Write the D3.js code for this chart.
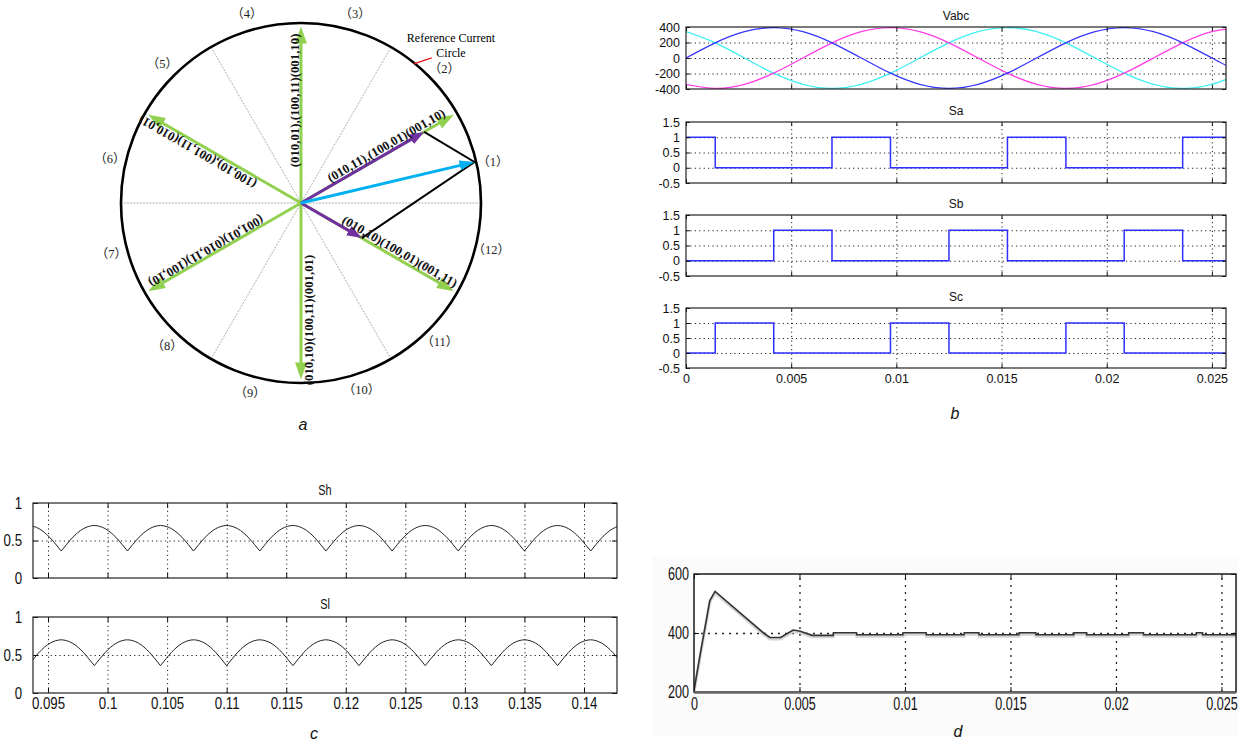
<!DOCTYPE html>
<html>
<head>
<meta charset="utf-8">
<script src="https://cdn.jsdelivr.net/npm/d3@7"></script>
<style>
  body { margin: 0; background: #fff; }
  svg { display: block; }
</style>
</head>
<body>
<div id="figura"></div>
<script>
// ===== dados =====

// (a) diagrama vetorial
const setorDiametros = [0, 60, 120];
const setorAngulos = [12, 43, 74, 106, 135, 167, 195, 227, 255, 288, 315, 346];
const setorNomes = ['（1）', '（2）', '（3）', '（4）', '（5）', '（6）', '（7）', '（8）', '（9）', '（10）', '（11）', '（12）'];
const verdeAngulos = [30, 90, 150, 210, 270, 330];
const verdeModulos = [0.98, 0.98, 0.98, 0.98, 0.98, 0.98];
const verdeRotulos = [
  '(010,11),(100,01)(001,10)',
  '(010,01),(100,11)(001,10)',
  '(100,10),(001,11)(010,01)',
  '(001,01)(010,11)(100,10)',
  '(010,10)(100,11)(001,01)',
  '(010,10)(100,01)(001,11)'
];
const roxoAngulos = [30, -30];
const roxoModulos = [0.79, 0.39];
const refAngulo = 13.3;
const refModulo = 0.99;

// (b) tensoes e chaveamentos
const bTempo = [0, 0.001389, 0.002778, 0.004167, 0.005556, 0.006944, 0.008333, 0.009722, 0.011111, 0.0125,
  0.013889, 0.015278, 0.016667, 0.018056, 0.019444, 0.020833, 0.022222, 0.023611, 0.025, 0.026389];
const va = [0, 196, 340, 392, 340, 196, 0, -196, -340, -392, -340, -196, 0, 196, 340, 392, 340, 196, 0, -196];
const vb = [-340, -392, -340, -196, 0, 196, 340, 392, 340, 196, 0, -196, -340, -392, -340, -196, 0, 196, 340, 392];
const vc = [340, 196, 0, -196, -340, -392, -340, -196, 0, 196, 340, 392, 340, 196, 0, -196, -340, -392, -340, -196];
const saTempo = [0, 0.00139, 0.00694, 0.00972, 0.01528, 0.01806, 0.02361, 0.02567];
const saValor = [1, 0, 1, 0, 1, 0, 1, 1];
const sbTempo = [0, 0.00417, 0.00694, 0.0125, 0.01528, 0.02083, 0.02361, 0.02567];
const sbValor = [0, 1, 0, 1, 0, 1, 0, 0];
const scTempo = [0, 0.00139, 0.00417, 0.00972, 0.0125, 0.01806, 0.02083, 0.02567];
const scValor = [0, 1, 0, 1, 0, 1, 0, 0];
const bTicksX = [0, 0.005, 0.01, 0.015, 0.02, 0.025];
const vTicks = [-400, -200, 0, 200, 400];
const sTicks = [-0.5, 0, 0.5, 1, 1.5];

// (c) Sh e Sl
const perfilArco = [0.36, 0.45, 0.535, 0.605, 0.657, 0.688, 0.70, 0.688, 0.657, 0.605, 0.535, 0.45, 0.36];
const shCuspides = [0.09056, 0.09611, 0.10167, 0.10722, 0.11278, 0.11833, 0.12389, 0.12944, 0.135, 0.14056, 0.14611];
const slCuspides = [0.09333, 0.09889, 0.10444, 0.11, 0.11556, 0.12111, 0.12667, 0.13222, 0.13778, 0.14333];
const cTicksX = [0.095, 0.1, 0.105, 0.11, 0.115, 0.12, 0.125, 0.13, 0.135, 0.14];
const cTicksY = [0, 0.5, 1];

// (d) tensao do barramento
const dTempo = [0, 0.0003, 0.00075, 0.001, 0.0033, 0.0036, 0.0041, 0.0047, 0.005, 0.0056, 0.0066, 0.00661,
  0.0077, 0.00771, 0.0099, 0.00991, 0.011, 0.01101, 0.0128, 0.01281, 0.0135, 0.01351, 0.0154, 0.01541,
  0.0162, 0.01621, 0.018, 0.01801, 0.0186, 0.01861, 0.0206, 0.02061, 0.0213, 0.02131, 0.0238, 0.02381,
  0.0241, 0.02411, 0.0257];
const dValor = [205, 330, 510, 541, 400, 385, 385, 410, 407, 392, 392, 401,
  401, 394, 394, 401, 401, 394, 394, 401, 401, 394, 394, 401,
  401, 394, 394, 401, 401, 394, 394, 401, 401, 394, 394, 401,
  401, 394, 394];
const dTicksX = [0, 0.005, 0.01, 0.015, 0.02, 0.025];
const dTicksY = [200, 400, 600];

// ===== configuracao =====
const SERIF = '"Liberation Serif","Times New Roman","Noto Sans CJK SC",serif';
const SANS = '"Liberation Sans",Arial,sans-serif';

const svg = d3.select('#figura').append('svg')
  .attr('width', 1239).attr('height', 742)
  .style('font-family', SANS);
const defs = svg.append('defs');

// ===== (a) =====
const cx = 301, cy = 203;
const raio = d3.scaleLinear().domain([0, 1]).range([0, 180]);
function ponto(ang, m) {
  const a = ang * Math.PI / 180;
  return [cx + raio(m) * Math.cos(a), cy - raio(m) * Math.sin(a)];
}

function seta(id, cor, comp, larg, recuo) {
  defs.append('marker').attr('id', id)
    .attr('markerUnits', 'userSpaceOnUse')
    .attr('markerWidth', comp).attr('markerHeight', larg)
    .attr('refX', comp - recuo).attr('refY', larg / 2)
    .attr('orient', 'auto')
    .append('path').attr('d', `M0,0L${comp},${larg / 2}L0,${larg}Z`).attr('fill', cor);
}
seta('pv', '#92d050', 17, 12, 9);
seta('pr', '#7030a0', 15, 11, 8);
seta('pa', '#00b0f0', 15, 10, 8);

const ga = svg.append('g');

ga.selectAll('line.diam').data(setorDiametros).join('line')
  .attr('x1', d => ponto(d, 1)[0]).attr('y1', d => ponto(d, 1)[1])
  .attr('x2', d => ponto(d + 180, 1)[0]).attr('y2', d => ponto(d + 180, 1)[1])
  .attr('stroke', '#8a8a8a').attr('stroke-width', 0.7).attr('stroke-dasharray', '2,1.2');

ga.append('circle').attr('cx', cx).attr('cy', cy).attr('r', raio(1))
  .attr('fill', 'none').attr('stroke', '#000').attr('stroke-width', 2.6);

ga.selectAll('text.setor').data(setorAngulos).join('text')
  .attr('x', d => ponto(d, 1.09)[0]).attr('y', d => ponto(d, 1.09)[1])
  .attr('text-anchor', 'middle').attr('dominant-baseline', 'central')
  .attr('font-family', SERIF).attr('font-size', 12.5).attr('fill', '#222')
  .text((d, i) => setorNomes[i]);

// anotacao do circulo de referencia
const marca = [ponto(51, 0.995), ponto(48, 1.085)];
ga.append('line').attr('x1', marca[0][0]).attr('y1', marca[0][1]).attr('x2', marca[1][0]).attr('y2', marca[1][1])
  .attr('stroke', '#e8141c').attr('stroke-width', 1.3);
ga.append('text').attr('x', 451).attr('y', 42).attr('text-anchor', 'middle')
  .attr('font-family', SERIF).attr('font-size', 12).text('Reference Current');
ga.append('text').attr('x', 451).attr('y', 57).attr('text-anchor', 'middle')
  .attr('font-family', SERIF).attr('font-size', 12).text('Circle');

// vetores verdes
const recuoV = raio.invert(9);
ga.selectAll('line.verde').data(verdeAngulos).join('line')
  .attr('x1', cx).attr('y1', cy)
  .attr('x2', (d, i) => ponto(d, verdeModulos[i] - recuoV)[0])
  .attr('y2', (d, i) => ponto(d, verdeModulos[i] - recuoV)[1])
  .attr('stroke', '#92d050').attr('stroke-width', 3).attr('marker-end', 'url(#pv)');

// linhas pretas (soma vetorial)
const pontaRef = ponto(refAngulo, refModulo);
const pontaR1 = ponto(roxoAngulos[0], roxoModulos[0]);
const pontaR2 = ponto(roxoAngulos[1], roxoModulos[1]);
ga.append('path')
  .attr('d', d3.line()([pontaR1, pontaRef, pontaR2]))
  .attr('fill', 'none').attr('stroke', '#000').attr('stroke-width', 2);

// vetores roxos e de referencia
const recuoR = raio.invert(8);
ga.selectAll('line.roxo').data(roxoAngulos).join('line')
  .attr('x1', cx).attr('y1', cy)
  .attr('x2', (d, i) => ponto(d, roxoModulos[i] - recuoR)[0])
  .attr('y2', (d, i) => ponto(d, roxoModulos[i] - recuoR)[1])
  .attr('stroke', '#7030a0').attr('stroke-width', 3).attr('marker-end', 'url(#pr)');
ga.append('line').attr('x1', cx).attr('y1', cy)
  .attr('x2', ponto(refAngulo, refModulo - recuoR)[0]).attr('y2', ponto(refAngulo, refModulo - recuoR)[1])
  .attr('stroke', '#00b0f0').attr('stroke-width', 3).attr('marker-end', 'url(#pa)');

// rotulos dos vetores (posicao ao longo, rotacao, deslocamento normal)
const rotuloLayout = [
  { along: 0.57, rot: -30, off: 3 },
  { along: 0.57, rot: -90, off: 2 },
  { along: 0.64, rot: -150, off: 3 },
  { along: 0.59, rot: 150, off: -10 },
  { along: 0.65, rot: -90, off: -12 },
  { along: 0.61, rot: 30, off: 3 }
];
ga.selectAll('text.vet').data(verdeRotulos).join('text')
  .attr('transform', (d, i) => {
    const L = rotuloLayout[i];
    const p = ponto(verdeAngulos[i], L.along);
    const r = L.rot * Math.PI / 180;
    const x = p[0] + Math.sin(r) * L.off, y = p[1] - Math.cos(r) * L.off;
    return `translate(${x},${y}) rotate(${L.rot})`;
  })
  .attr('text-anchor', 'middle')
  .attr('font-family', SERIF).attr('font-weight', 'bold').attr('font-size', 12.8)
  .attr('fill', '#111')
  .text(d => d);

// ===== eixos estilo matlab =====
function eixos(g, x, y, cfg) {
  const [x0, x1] = x.range();
  const [y0, y1] = y.range();
  const w = x1 - x0, h = y0 - y1;
  g.append('rect').attr('x', x0).attr('y', y1).attr('width', w).attr('height', h).attr('fill', '#fff');

  const gx = g.append('g').attr('transform', `translate(0,${y0})`)
    .call(d3.axisBottom(x).tickValues(cfg.xGrid).tickSize(-h).tickFormat(''));
  const gy = g.append('g').attr('transform', `translate(${x0},0)`)
    .call(d3.axisLeft(y).tickValues(cfg.yGrid).tickSize(-w).tickFormat(''));
  [gx, gy].forEach(s => {
    s.select('.domain').remove();
    s.selectAll('line').attr('stroke', '#222').attr('stroke-width', cfg.gridWidth || 1)
      .attr('stroke-dasharray', cfg.dash);
  });

  const id = 'clip' + Math.round(x0) + '_' + Math.round(y1);
  defs.append('clipPath').attr('id', id)
    .append('rect').attr('x', x0).attr('y', y1).attr('width', w).attr('height', h);
  const area = g.append('g').attr('clip-path', `url(#${id})`);

  const finaliza = () => {
    const k = cfg.squash || 1;
    const tamanho = cfg.tick || 4;
    const bx = g.append('g').attr('transform', `translate(0,${y0})`)
      .call(d3.axisBottom(x).tickValues(cfg.xTicks).tickSize(-tamanho).tickPadding(cfg.padX)
        .tickFormat(cfg.xLabels ? (d => String(d)) : ''));
    const tx = g.append('g').attr('transform', `translate(0,${y1})`)
      .call(d3.axisTop(x).tickValues(cfg.xTicks).tickSize(-tamanho).tickFormat(''));
    const ly = g.append('g').attr('transform', `translate(${x0},0)`)
      .call(d3.axisLeft(y).tickValues(cfg.yTicks).tickSize(-tamanho).tickPadding(cfg.padY / k)
        .tickFormat(d => String(d)));
    const ry = g.append('g').attr('transform', `translate(${x1},0)`)
      .call(d3.axisRight(y).tickValues(cfg.yTicks).tickSize(-tamanho).tickFormat(''));
    [bx, tx, ly, ry].forEach(s => {
      s.select('.domain').remove();
      s.attr('font-family', SANS).attr('font-size', cfg.fontSize).attr('color', '#111');
      s.selectAll('line').attr('stroke', '#111');
    });
    if (k !== 1) {
      bx.selectAll('text').attr('transform', `scale(${k},1)`);
      ly.selectAll('text').attr('transform', `scale(${k},1)`);
    }
    g.append('rect').attr('x', x0).attr('y', y1).attr('width', w).attr('height', h)
      .attr('fill', 'none').attr('stroke', cfg.frame || '#222').attr('stroke-width', cfg.frameWidth || 1.2);
    if (cfg.title) {
      g.append('text').attr('x', (x0 + x1) / 2).attr('y', y1 - cfg.titleGap)
        .attr('text-anchor', 'middle').attr('font-size', cfg.titleSize)
        .attr('transform', k !== 1 ? `translate(${(x0 + x1) / 2 * (1 - k)},0) scale(${k},1)` : null)
        .attr('fill', '#111').text(cfg.title);
    }
  };
  return { area, finaliza };
}

// ===== (b) =====
const xB = d3.scaleLinear().domain([0, 0.02567]).range([686, 1226]);
const bGrid = bTicksX.slice(1);

function painelB(topo, base, dominio, yTicks, titulo, series, comX) {
  const y = d3.scaleLinear().domain(dominio).range([base, topo]);
  const g = svg.append('g');
  const eixo = eixos(g, xB, y, {
    xGrid: bGrid, yGrid: yTicks.slice(1, -1), dash: '1.2,3.2',
    xTicks: bTicksX, yTicks: yTicks, xLabels: comX, padX: 6, padY: 6,
    fontSize: 12.5, title: titulo, titleGap: 7, titleSize: 12
  });
  series.forEach(s => {
    const linha = d3.line().x((d, i) => xB(s.t[i])).y(d => y(d)).curve(s.curve);
    eixo.area.append('path').datum(s.v).attr('d', linha)
      .attr('fill', 'none').attr('stroke', s.cor).attr('stroke-width', s.larg);
  });
  eixo.finaliza();
}

painelB(27, 89, [-400, 400], vTicks, 'Vabc', [
  { t: bTempo, v: vc, cor: '#3ff0f0', larg: 1.3, curve: d3.curveNatural },
  { t: bTempo, v: vb, cor: '#ff3ce6', larg: 1.3, curve: d3.curveNatural },
  { t: bTempo, v: va, cor: '#3535ff', larg: 1.3, curve: d3.curveNatural }
], false);
painelB(122, 183, [-0.5, 1.5], sTicks, 'Sa', [
  { t: saTempo, v: saValor, cor: '#2f2fff', larg: 1.5, curve: d3.curveStepAfter }
], false);
painelB(215, 276, [-0.5, 1.5], sTicks, 'Sb', [
  { t: sbTempo, v: sbValor, cor: '#2f2fff', larg: 1.5, curve: d3.curveStepAfter }
], false);
painelB(308, 368, [-0.5, 1.5], sTicks, 'Sc', [
  { t: scTempo, v: scValor, cor: '#2f2fff', larg: 1.5, curve: d3.curveStepAfter }
], true);

// ===== (c) =====
const xC = d3.scaleLinear().domain([0.09374, 0.14277]).range([33, 617]);

function arcos(cuspides) {
  const lista = [];
  for (let k = 0; k < cuspides.length - 1; k++) {
    const t0 = cuspides[k], t1 = cuspides[k + 1];
    lista.push(perfilArco.map((v, i) => [t0 + (t1 - t0) * i / (perfilArco.length - 1), v]));
  }
  return lista;
}

function painelC(topo, base, titulo, cuspides) {
  const y = d3.scaleLinear().domain([0, 1]).range([base, topo]);
  const g = svg.append('g');
  const eixo = eixos(g, xC, y, {
    xGrid: cTicksX, yGrid: [0.5], dash: '1.2,3.2',
    xTicks: cTicksX, yTicks: cTicksY, xLabels: titulo === 'Sl', padX: 4, padY: 11,
    fontSize: 17, squash: 0.78, tick: 5, title: titulo, titleGap: 8, titleSize: 14
  });
  const linha = d3.line().x(d => xC(d[0])).y(d => y(d[1])).curve(d3.curveNatural);
  eixo.area.selectAll('path.arco').data(arcos(cuspides)).join('path')
    .attr('d', linha).attr('fill', 'none').attr('stroke', '#222').attr('stroke-width', 1);
  eixo.finaliza();
}
painelC(503, 578, 'Sh', shCuspides);
painelC(617, 693, 'Sl', slCuspides);

// ===== (d) =====
svg.append('rect').attr('x', 652).attr('y', 556).attr('width', 587).attr('height', 180).attr('fill', '#fbfbfb');
const xD = d3.scaleLinear().domain([0, 0.02569]).range([694, 1236]);
const yD = d3.scaleLinear().domain([200, 600]).range([692, 574]);
{
  const g = svg.append('g');
  const eixo = eixos(g, xD, yD, {
    xGrid: dTicksX.slice(1), yGrid: [400], dash: '2,5', gridWidth: 1.3,
    xTicks: dTicksX, yTicks: dTicksY, xLabels: true, padX: 5, padY: 5,
    fontSize: 18, squash: 0.7, tick: 5, frame: '#1a1a1a', frameWidth: 1.5
  });
  const linha = d3.line().x((d, i) => xD(dTempo[i])).y(d => yD(d));
  eixo.area.append('path').datum(dValor).attr('d', linha)
    .attr('fill', 'none').attr('stroke', '#d4d4d4').attr('stroke-width', 3).attr('transform', 'translate(0,1.5)');
  eixo.area.append('path').datum(dValor).attr('d', linha)
    .attr('fill', 'none').attr('stroke', '#333').attr('stroke-width', 1.6);
  eixo.finaliza();
  g.append('line').attr('x1', 694).attr('x2', 1236).attr('y1', 692.5).attr('y2', 692.5)
    .attr('stroke', '#666').attr('stroke-width', 2.5);
}

// ===== letras dos paineis =====
const letras = [['a', 303, 430], ['b', 955, 419], ['c', 314, 739], ['d', 958, 737]];
svg.selectAll('text.letra').data(letras).join('text')
  .attr('x', d => d[1]).attr('y', d => d[2]).attr('text-anchor', 'middle')
  .attr('font-style', 'italic').attr('font-size', 16).attr('fill', '#111')
  .text(d => d[0]);
</script>
</body>
</html>
